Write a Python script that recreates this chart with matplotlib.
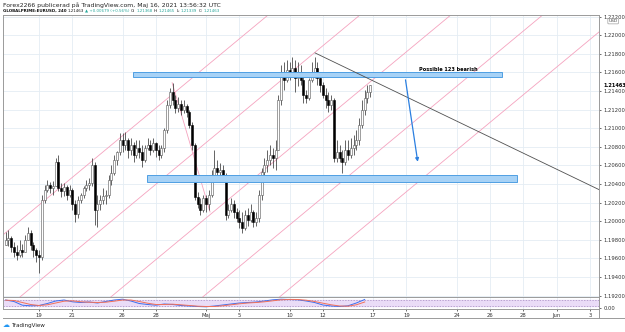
import matplotlib.pyplot as plt
from matplotlib.patches import Rectangle, FancyArrowPatch

# GLOBALPRIME:EURUSD 4h candles, 15 Apr - 14 May 2021
# x axis = trading days counted from 15 Apr (6 candles per day)
first_open = 1.1974
closes = [1.1980, 1.1982, 1.1972, 1.1967, 1.1964, 1.1969,
          1.1967, 1.1980, 1.1987, 1.1974, 1.1969, 1.1964,
          1.1961, 1.2023, 1.2034, 1.2039, 1.2036, 1.2038,
          1.2064, 1.2036, 1.2032, 1.2037, 1.2028, 1.2034,
          1.2018, 1.2008, 1.2023, 1.2028, 1.2036, 1.2039,
          1.2041, 1.2060, 1.2012, 1.2018, 1.2023, 1.2027,
          1.2028, 1.2044, 1.2052, 1.2066, 1.2074, 1.2087,
          1.2082, 1.2087, 1.2077, 1.2082, 1.2071, 1.2079,
          1.2074, 1.2066, 1.2079, 1.2082, 1.2077, 1.2084,
          1.2077, 1.2071, 1.2079, 1.2098, 1.2125, 1.2139,
          1.2130, 1.2122, 1.2126, 1.2120, 1.2124, 1.2117,
          1.2103, 1.2082, 1.2026, 1.2019, 1.2012, 1.2025,
          1.2018, 1.2028, 1.2050, 1.2057, 1.2053, 1.2055,
          1.2050, 1.2007, 1.2012, 1.2018, 1.2010, 1.2004,
          1.1999, 1.1993, 1.2007, 1.2001, 1.2010, 1.1999,
          1.2004, 1.2028, 1.2053, 1.2060, 1.2066, 1.2071,
          1.2068, 1.2077, 1.2130, 1.2157, 1.2152, 1.2163,
          1.2160, 1.2165, 1.2154, 1.2160, 1.2152, 1.2136,
          1.2132, 1.2152, 1.2160, 1.2165, 1.2154, 1.2146,
          1.2136, 1.2130, 1.2125, 1.2130, 1.2068, 1.2074,
          1.2068, 1.2064, 1.2077, 1.2071, 1.2079, 1.2082,
          1.2087, 1.2103, 1.2120, 1.2132, 1.2139, 1.21463]
highs = [1.1988, 1.1991, 1.1984, 1.1978, 1.1974, 1.1980,
         1.1975, 1.1985, 1.1994, 1.1991, 1.1978, 1.1971,
         1.1969, 1.2028, 1.2039, 1.2044, 1.2042, 1.2043,
         1.2068, 1.2071, 1.2041, 1.2041, 1.2039, 1.2039,
         1.2036, 1.2023, 1.2027, 1.2030, 1.2038, 1.2044,
         1.2047, 1.2068, 1.2064, 1.2028, 1.2028, 1.2036,
         1.2034, 1.2050, 1.2060, 1.2071, 1.2076, 1.2095,
         1.2095, 1.2096, 1.2090, 1.2090, 1.2085, 1.2087,
         1.2087, 1.2082, 1.2082, 1.2090, 1.2087, 1.2090,
         1.2085, 1.2082, 1.2082, 1.2100, 1.2130, 1.2143,
         1.2149, 1.2136, 1.2134, 1.2130, 1.2130, 1.2126,
         1.2120, 1.2107, 1.2084, 1.2031, 1.2025, 1.2028,
         1.2028, 1.2034, 1.2055, 1.2077, 1.2066, 1.2063,
         1.2060, 1.2052, 1.2018, 1.2025, 1.2023, 1.2014,
         1.2012, 1.2010, 1.2012, 1.2014, 1.2018, 1.2012,
         1.2010, 1.2034, 1.2057, 1.2068, 1.2077, 1.2082,
         1.2079, 1.2087, 1.2136, 1.2168, 1.2171, 1.2173,
         1.2171, 1.2177, 1.2173, 1.2171, 1.2168, 1.2157,
         1.2141, 1.2154, 1.2171, 1.2177, 1.2171, 1.2160,
         1.2150, 1.2143, 1.2139, 1.2136, 1.2132, 1.2087,
         1.2082, 1.2077, 1.2087, 1.2087, 1.2090, 1.2093,
         1.2098, 1.2111, 1.2130, 1.2141, 1.2146, 1.21465]
lows = [1.1974, 1.1973, 1.1967, 1.1961, 1.1958, 1.1962,
        1.1961, 1.1971, 1.1980, 1.1969, 1.1962, 1.1956,
        1.1944, 1.1958, 1.2020, 1.2031, 1.2030, 1.2028,
        1.2038, 1.2032, 1.2026, 1.2027, 1.2023, 1.2026,
        1.2012, 1.1999, 1.2003, 1.2020, 1.2025, 1.2032,
        1.2034, 1.2038, 1.1996, 1.1994, 1.2012, 1.2018,
        1.2018, 1.2025, 1.2039, 1.2050, 1.2060, 1.2071,
        1.2074, 1.2077, 1.2068, 1.2071, 1.2064, 1.2068,
        1.2068, 1.2058, 1.2064, 1.2077, 1.2071, 1.2074,
        1.2069, 1.2066, 1.2068, 1.2074, 1.2095, 1.2122,
        1.2125, 1.2116, 1.2117, 1.2114, 1.2116, 1.2112,
        1.2100, 1.2077, 1.2023, 1.2014, 1.2007, 1.2010,
        1.2010, 1.2012, 1.2026, 1.2046, 1.2044, 1.2046,
        1.2044, 1.2001, 1.2003, 1.2010, 1.2003, 1.1999,
        1.1993, 1.1987, 1.1991, 1.1995, 1.1999, 1.1994,
        1.1995, 1.1999, 1.2023, 1.2049, 1.2053, 1.2060,
        1.2057, 1.2055, 1.2077, 1.2125, 1.2141, 1.2150,
        1.2152, 1.2156, 1.2139, 1.2145, 1.2146, 1.2127,
        1.2127, 1.2130, 1.2150, 1.2154, 1.2146, 1.2139,
        1.2132, 1.2122, 1.2117, 1.2120, 1.2064, 1.2064,
        1.2064, 1.2052, 1.2060, 1.2066, 1.2068, 1.2071,
        1.2077, 1.2082, 1.2100, 1.2114, 1.2127, 1.21339]

# stochastic-like oscillator, two points per trading day
osc_k = [80, 65, 28, 22, 25, 45, 70, 80, 62, 55, 60, 50, 65, 80, 88, 70,
         45, 35, 28, 40, 35, 25, 20, 15, 12, 20, 30, 40, 50, 55, 60, 70,
         82, 88, 85, 82, 70, 55, 30, 20, 15, 22, 50, 85]
osc_d = [78, 75, 55, 35, 25, 32, 50, 68, 72, 62, 58, 55, 58, 68, 80, 80,
         65, 48, 35, 35, 38, 32, 25, 18, 15, 15, 22, 32, 42, 50, 55, 62,
         72, 82, 86, 85, 78, 65, 48, 32, 20, 18, 32, 60]

day_ticks = [2, 4, 7, 9, 12, 14, 17, 19, 22, 24, 27, 29, 31, 33, 35]
day_labels = ['19', '21', '26', '28', 'Maj', '5', '10', '12', '17', '19',
              '24', '26', '28', 'Jun', '3']
price_ticks = [1.192, 1.194, 1.196, 1.198, 1.200, 1.202, 1.204, 1.206,
               1.208, 1.210, 1.212, 1.214, 1.216, 1.218, 1.220, 1.222]

# drawings
resist_zone = [7.63, 29.72, 1.2155, 1.2160]
support_zone = [8.47, 30.62, 1.2042, 1.2050]
trend_line = [(18.53, 1.2181), (35.53, 1.2034)]
arrow_pts = [(23.92, 1.2155), (24.70, 1.2061)]
fork_starts = [-4.64, 0.86, 6.3, 11.8, 16.4]   # where the pink lines cut 1.19185
fork_slope = 0.00149
fork_join = [(9.97, 1.2149), (12.24, 1.2010)]

W, H = 625, 332
def box(x0, y0, x1, y1):
    return [x0 / W, 1 - y1 / H, (x1 - x0) / W, (y1 - y0) / H]

fig = plt.figure(figsize=(6.25, 3.32), dpi=100)
ax = fig.add_axes(box(3, 15, 599, 297))
axi = fig.add_axes(box(3, 297, 599, 309), sharex=ax)

grid_c = '#e4edf4'
for a in (ax, axi):
    for t in day_ticks:
        a.axvline(t, color=grid_c, lw=0.6, zorder=0)
    for s in a.spines.values():
        s.set_color('#9a9a9a')
        s.set_linewidth(0.7)
for p in price_ticks:
    ax.axhline(p, color=grid_c, lw=0.6, zorder=0)

# candles
opens = [first_open] + closes[:-1]
for i in range(len(closes)):
    x = i / 6
    o, c = opens[i], closes[i]
    hi, lo = max(highs[i], o, c), min(lows[i], o, c)
    up = c >= o
    ax.vlines(x, lo, hi, color='#3a3a3a', lw=0.55, zorder=3)
    ax.add_patch(Rectangle((x - 0.06, min(o, c)), 0.12, max(abs(c - o), 0.00003),
                           facecolor='white' if up else 'black',
                           edgecolor='#555555' if up else 'black', lw=0.4, zorder=4))

# zones
for z in (resist_zone, support_zone):
    ax.add_patch(Rectangle((z[0], z[2]), z[1] - z[0], z[3] - z[2],
                           facecolor='#a7d2f6', edgecolor='#4f9fe3', lw=0.7, zorder=5))

# pink fork lines
for d0 in fork_starts:
    ax.axline((d0, 1.19185), slope=fork_slope, color='#f5a3bf', lw=0.6, zorder=2)
ax.plot([p[0] for p in fork_join], [p[1] for p in fork_join], color='#f5a3bf', lw=0.6, zorder=2)

ax.plot([p[0] for p in trend_line], [p[1] for p in trend_line], color='#505050', lw=0.6, zorder=6)
ax.add_patch(FancyArrowPatch(arrow_pts[0], arrow_pts[1], arrowstyle='-|>', mutation_scale=5,
                             color='#2b7fe0', lw=0.9, zorder=7))
ax.text(26.5, 1.21637, 'Possible 123 bearish', fontsize=3.6, fontweight='bold',
        ha='center', va='center', zorder=8)

ax.set_xlim(-0.156, 35.53)
ax.set_ylim(1.19185, 1.22218)
ax.yaxis.tick_right()
ax.set_yticks(price_ticks)
ax.set_yticklabels([f'{p:.5f}' for p in price_ticks])
ax.tick_params(axis='y', labelsize=3.8, length=1.5, pad=2, colors='#333333', width=0.5)
ax.tick_params(axis='x', bottom=False, labelbottom=False)
ax.text(603 / W, 1 - 85 / H, '1.21463', transform=fig.transFigure,
        fontsize=3.6, fontweight='bold', va='center', ha='left')
ax.text(1.016, 0.985, 'USD', transform=ax.transAxes, fontsize=3.2, va='top', ha='left',
        color='#444444', bbox=dict(boxstyle='round,pad=0.15', fc='white', ec='#888888', lw=0.4))

# oscillator pane
days_half = [j / 2 for j in range(len(osc_k))]
axi.axhspan(20, 80, color='#eadcf7', zorder=0)
axi.axhline(20, color='#a58ac0', lw=0.5, ls=(0, (2, 2)))
axi.axhline(80, color='#a58ac0', lw=0.5, ls=(0, (2, 2)))
axi.plot(days_half, osc_k, color='#3b6ff0', lw=0.7)
axi.plot(days_half, osc_d, color='#f2705a', lw=0.7)
axi.set_ylim(-10, 110)
axi.yaxis.tick_right()
axi.set_yticks([0])
axi.set_yticklabels(['0.00'])
axi.tick_params(axis='y', labelsize=3.8, length=1.5, pad=2, colors='#333333', width=0.5)
axi.set_xticks(day_ticks)
axi.set_xticklabels(day_labels)
axi.tick_params(axis='x', labelsize=3.8, length=1.5, pad=1.5, colors='#333333', width=0.5)

# frame lines of the outer layout
fig.add_artist(plt.Line2D([3 / W, 1], [1 - 318 / H] * 2, color='#9a9a9a', lw=0.7))
fig.add_artist(plt.Line2D([599 / W, 599 / W], [1 - 318 / H, 1 - 297 / H], color='#9a9a9a', lw=0.7))

# header, pieces laid one after another
renderer = fig.canvas.get_renderer()
def header_line(pieces, y, size, gap):
    x = 3 / W
    for txt, col, wt in pieces:
        t = fig.text(x, 1 - y / H, txt, fontsize=size, va='center', color=col, fontweight=wt)
        bb = t.get_window_extent(renderer)
        x = (bb.x1 + gap) / W

header_line([('Forex2266 publicerad på TradingView.com, Maj 16, 2021 13:56:32 UTC', '#222222', 'normal')],
            5, 4.4, 0)
teal = '#26a69a'
header_line([('GLOBALPRIME:EURUSD, 240', '#111111', 'bold'), ('1.21463', '#111111', 'normal'),
             ('▲ +0.00679 (+0.56%)', teal, 'normal'),
             ('O:', '#111111', 'normal'), ('1.21368', teal, 'normal'),
             ('H:', '#111111', 'normal'), ('1.21465', teal, 'normal'),
             ('L:', '#111111', 'normal'), ('1.21339', teal, 'normal'),
             ('C:', '#111111', 'normal'), ('1.21463', teal, 'normal')], 11, 2.9, 1.1)

fig.text(12 / W, 1 - 325 / H, 'TradingView', fontsize=4.1, va='center', color='#222222')
fig.text(3 / W, 1 - 325 / H, '☁', fontsize=5, va='center', color='#2196f3')

fig.savefig('out.png', dpi=100)
